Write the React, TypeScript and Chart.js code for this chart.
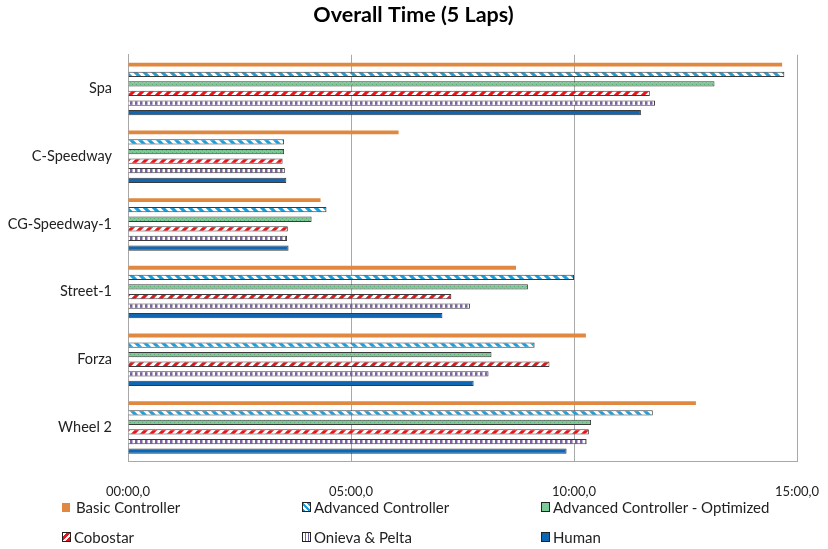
import React, { useEffect, useRef } from "react";
import { Chart, registerables } from "chart.js";

Chart.register(...registerables);

const categories = ["Spa", "C-Speedway", "CG-Speedway-1", "Street-1", "Forza", "Wheel 2"];
// values in seconds
const basicController = [880, 364, 259, 522, 616, 764];
const advancedController = [883, 210, 267, 600, 547, 706];
const advancedOptimized = [789, 210, 247, 538, 489, 623];
const cobostar = [702, 208, 215, 435, 567, 620];
const onievaPelta = [709, 211, 214, 460, 485, 617];
const human = [690, 213, 216, 423, 465, 590];
const tickValues = [0, 300, 600, 900];

const FONT = "Lato, 'Open Sans', sans-serif";

function pad(n: number) {
  return n < 10 ? "0" + n : "" + n;
}
function fmt(v: number) {
  const m = Math.floor(v / 60);
  const s = Math.round(v % 60);
  return `${pad(m)}:${pad(s)},0`;
}

function makePattern(w: number, h: number, draw: (c: CanvasRenderingContext2D) => void) {
  const cv = document.createElement("canvas");
  cv.width = w;
  cv.height = h;
  const c = cv.getContext("2d")!;
  draw(c);
  return c.createPattern(cv, "repeat")!;
}

function diagPattern(color: string, dir: 1 | -1, period: number, lw: number) {
  return makePattern(period, period, (c) => {
    c.fillStyle = "#ffffff";
    c.fillRect(0, 0, period, period);
    c.strokeStyle = color;
    c.lineWidth = lw;
    c.beginPath();
    for (let k = -1; k <= 1; k++) {
      if (dir === 1) {
        c.moveTo(k * period - 2, -2);
        c.lineTo(k * period + period + 2, period + 2);
      } else {
        c.moveTo(k * period - 2, period + 2);
        c.lineTo(k * period + period + 2, -2);
      }
    }
    c.stroke();
  });
}

const legendItems = [
  { label: "Basic Controller", x: 62, y: 507, css: { background: "#E0883F" }, border: false },
  {
    label: "Advanced Controller",
    x: 302,
    y: 507,
    css: { background: "repeating-linear-gradient(45deg, #1E9FDA 0 2px, #fff 2px 4px)" },
    border: true,
  },
  { label: "Advanced Controller - Optimized", x: 541, y: 507, css: { background: "#7CCB96" }, border: true },
  {
    label: "Cobostar",
    x: 62,
    y: 537,
    css: { background: "repeating-linear-gradient(-45deg, #E8141B 0 3px, #fff 3px 5px)" },
    border: true,
  },
  {
    label: "Onieva & Pelta",
    x: 302,
    y: 537,
    css: { background: "repeating-linear-gradient(90deg, #fff 0 1.5px, #7B62A0 1.5px 3px)" },
    border: true,
  },
  { label: "Human", x: 541, y: 537, css: { background: "#0F66B3" }, border: true },
];

export default function App() {
  const ref = useRef<HTMLCanvasElement>(null);

  useEffect(() => {
    if (!ref.current) return;
    const blue = diagPattern("#1E9FDA", 1, 9, 3.2);
    const red = diagPattern("#E8141B", -1, 9, 3.2);
    const green = makePattern(4, 4, (c) => {
      c.fillStyle = "#7CCB96";
      c.fillRect(0, 0, 4, 4);
      c.fillStyle = "#5FA878";
      c.fillRect(0, 0, 1, 1);
      c.fillRect(2, 2, 1, 1);
    });
    const purple = makePattern(5, 5, (c) => {
      c.fillStyle = "#ffffff";
      c.fillRect(0, 0, 5, 5);
      c.fillStyle = "#7B62A0";
      c.fillRect(0, 0, 2.5, 5);
    });
    const borderCol = "#3A3A3A";
    const bp = 0.55;
    const chart = new Chart(ref.current, {
      type: "bar",
      data: {
        labels: categories,
        datasets: [
          { label: "Basic Controller", data: basicController, backgroundColor: "#E0883F", borderWidth: 0, barPercentage: 0.4 },
          { label: "Advanced Controller", data: advancedController, backgroundColor: blue as any, borderColor: borderCol, borderWidth: 1, barPercentage: bp },
          { label: "Advanced Controller - Optimized", data: advancedOptimized, backgroundColor: green as any, borderColor: borderCol, borderWidth: 1, barPercentage: bp },
          { label: "Cobostar", data: cobostar, backgroundColor: red as any, borderColor: borderCol, borderWidth: 1, barPercentage: bp },
          { label: "Onieva & Pelta", data: onievaPelta, backgroundColor: purple as any, borderColor: borderCol, borderWidth: 1, barPercentage: bp },
          { label: "Human", data: human, backgroundColor: "#0F66B3", borderColor: borderCol, borderWidth: 1, barPercentage: bp },
        ],
      },
      options: {
        indexAxis: "y",
        responsive: false,
        animation: false,
        datasets: { bar: { categoryPercentage: 0.85 } },
        layout: { padding: { left: 0, right: 1, top: 0, bottom: 0 } },
        plugins: {
          legend: { display: false },
          tooltip: { enabled: false },
          title: {
            display: true,
            text: "Overall Time (5 Laps)",
            color: "#000",
            font: { family: FONT, size: 21.5, weight: "bold" },
            padding: { top: 2, bottom: 27 },
          },
        },
        scales: {
          x: {
            type: "linear",
            min: 0,
            max: 900,
            afterBuildTicks: (s: any) => {
              s.ticks = tickValues.map((v) => ({ value: v }));
            },
            afterFit: (s: any) => {
              s.height = 88;
              s.paddingRight = 31;
            },
            ticks: {
              callback: (v: any) => fmt(Number(v)),
              color: "#222",
              font: { family: FONT, size: 13 },
              padding: 0,
              maxRotation: 0,
            },
            grid: {
              display: true,
              color: "#A8A8A8",
              drawTicks: true,
              tickLength: 23,
              tickColor: "rgba(0,0,0,0)",
              lineWidth: 1,
            },
            border: { display: true, color: "#A8A8A8" },
          },
          y: {
            afterFit: (s: any) => {
              s.width = 128;
            },
            ticks: {
              color: "#222",
              font: { family: FONT, size: 14.5 },
              padding: 16,
            },
            grid: { display: false, drawTicks: false },
            border: { display: true, color: "#A8A8A8" },
          },
        },
      },
    });
    return () => chart.destroy();
  }, []);

  return (
    <div style={{ position: "absolute", left: 0, top: 0, width: 828, height: 549, background: "#fff" }}>
      <canvas ref={ref} width={828} height={549} style={{ display: "block" }} />
      {legendItems.map((it) => (
        <div
          key={it.label}
          style={{
            position: "absolute",
            left: it.x,
            top: it.y - 10,
            height: 20,
            display: "flex",
            alignItems: "center",
            fontFamily: FONT,
            fontSize: 15,
            color: "#222",
            whiteSpace: "nowrap",
          }}
        >
          <span
            style={{
              display: "inline-block",
              width: it.border ? 7 : 8,
              height: it.border ? 8 : 9,
              border: it.border ? "1px solid #222" : "none",
              marginRight: it.border ? 3 : 6,
              ...it.css,
            }}
          />
          <span>{it.label}</span>
        </div>
      ))}
    </div>
  );
}
